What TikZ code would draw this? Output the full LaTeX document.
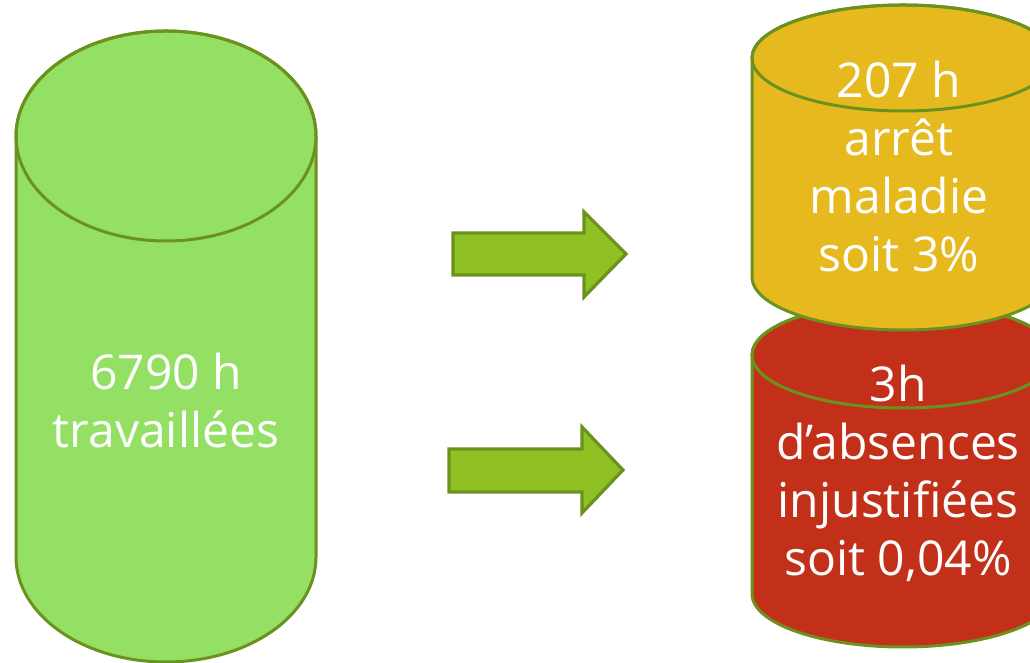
\documentclass[tikz,border=0pt]{standalone}
\usepackage{fontspec}
\setmainfont{Open Sans}
\definecolor{cylgreen}{RGB}{148,224,100}
\definecolor{cylyellow}{RGB}{230,185,30}
\definecolor{cylred}{RGB}{195,48,26}
\definecolor{arrowgreen}{RGB}{143,193,37}
\definecolor{olive}{RGB}{107,146,30}
\begin{document}
\begin{tikzpicture}[x=1pt,y=1pt,
		cyl/.style={draw=olive,line width=3pt},
		blockarrow/.style={draw=olive,line width=3.2pt,fill=arrowgreen,line join=miter},
		txt/.style={text=white,align=center,font=\fontsize{48}{58}\selectfont}]
			\useasboundingbox (0,0) rectangle (1030,663);
			\clip (0,0) rectangle (1030,663);
			% big green cylinder
			\draw[cyl,fill=cylgreen] (16,527) -- (16,106) arc[start angle=180, end angle=360, x radius=150, y radius=105] -- (316,527) arc[start angle=0, end angle=180, x radius=150, y radius=105] -- cycle;
			\draw[cyl] (166,527) ellipse[x radius=150, y radius=105];
			\node[txt] (worked) at (166,262) {6790 h\\travaillées};
			% arrows
			\draw[blockarrow] (453,430) -- (584,430) -- (584,451) -- (626,409) -- (584,366) -- (584,388) -- (453,388) -- cycle;
			\draw[blockarrow] (449,214) -- (582,214) -- (582,236) -- (623,193) -- (582,150) -- (582,171) -- (449,171) -- cycle;
			% red cylinder
			\draw[cyl,fill=cylred] (752,308) -- (752,69) arc[start angle=180, end angle=360, x radius=151, y radius=53] -- (1054,308) arc[start angle=0, end angle=180, x radius=151, y radius=53] -- cycle;
			\draw[cyl] (903,308) ellipse[x radius=151, y radius=53];
			% yellow cylinder
			\draw[cyl,fill=cylyellow] (752,605) -- (752,386) arc[start angle=180, end angle=360, x radius=151, y radius=53] -- (1054,605) arc[start angle=0, end angle=180, x radius=151, y radius=53] -- cycle;
			\draw[cyl] (903,605) ellipse[x radius=151, y radius=53];
			\node[txt] (sick) at (899,496) {207 h\\arrêt\\maladie\\soit 3\%};
			\node[txt] (absent) at (898,190) {3h\\d’absences\\injustifiées\\soit 0,04\%};
		\end{tikzpicture}
\end{document}
